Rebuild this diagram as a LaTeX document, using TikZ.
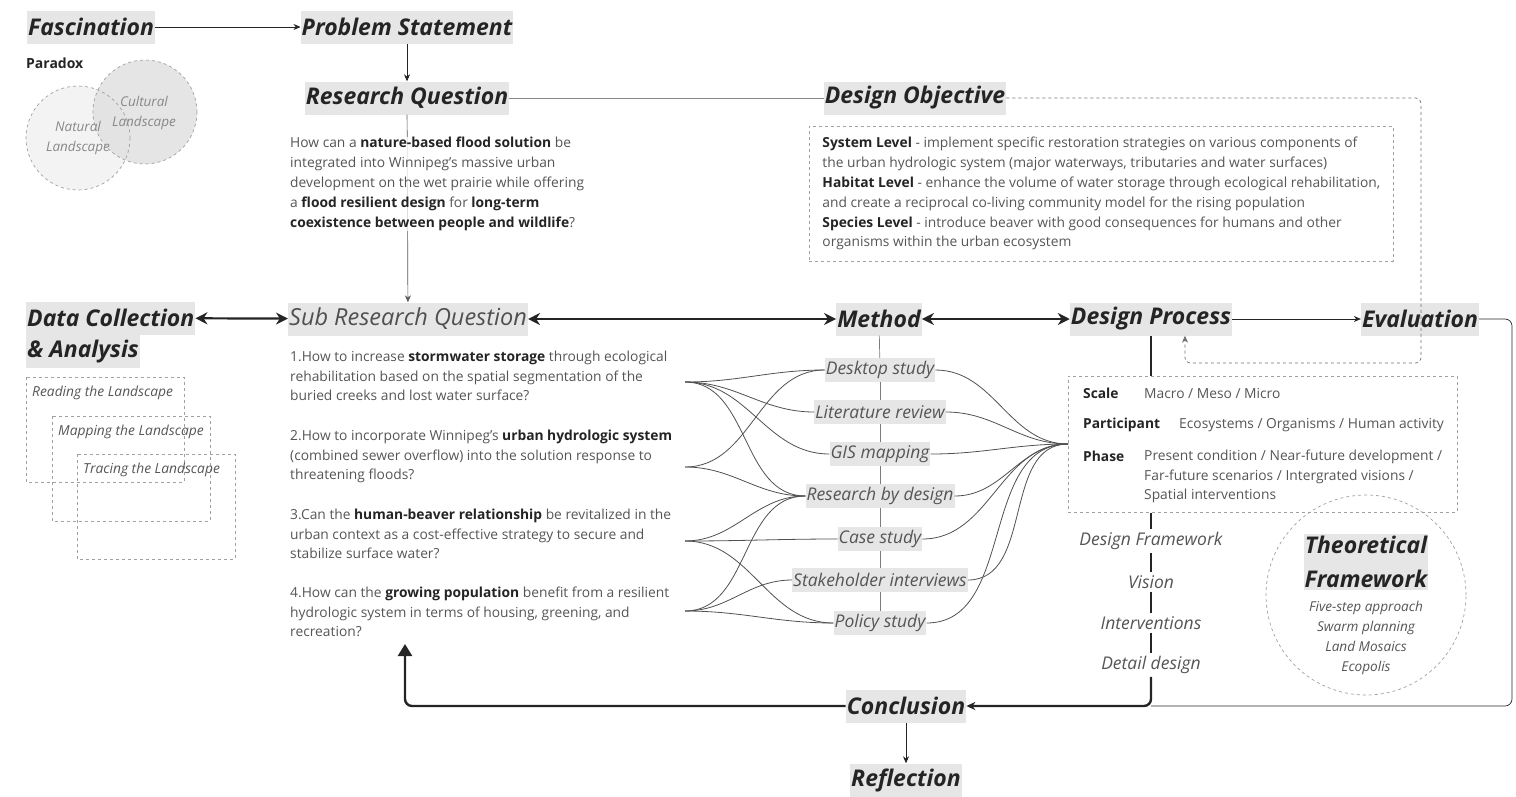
\documentclass[tikz,border=0pt]{standalone}
\usepackage{fontspec}
\setmainfont{Open Sans}
\usetikzlibrary{arrows.meta,positioning}
\definecolor{inkDark}{HTML}{242424}
\definecolor{inkMid}{HTML}{555555}
\definecolor{inkSoft}{HTML}{888888}
\definecolor{boxGrey}{HTML}{E6E6E6}
\definecolor{dashGrey}{HTML}{A0A0A0}
\definecolor{vennLight}{HTML}{F3F3F3}
\definecolor{vennDark}{HTML}{E2E2E2}
\newcommand{\kw}[1]{\textbf{\textcolor{inkDark}{#1}}}

\begin{document}
\begin{tikzpicture}[x=1pt,y=-1pt,
    every node/.style={font=\fontsize{13.8}{20}\selectfont,text=inkMid},
    head/.style={fill=boxGrey,text=inkDark,font=\fontsize{23}{34}\selectfont\bfseries\itshape,inner xsep=1pt,inner ysep=0pt,minimum height=33pt},
    subhead/.style={head,font=\fontsize{23.5}{26}\selectfont\itshape,text=inkDark!80},
    meth/.style={fill=boxGrey,font=\fontsize{17.5}{19}\selectfont\itshape,inner xsep=1pt,inner ysep=0pt,minimum height=24pt},
    stage/.style={fill=white,font=\fontsize{17.5}{19}\selectfont\itshape,inner xsep=2pt,inner ysep=3pt},
    txt/.style={anchor=north west,align=left,inner sep=0pt},
    dpkey/.style={anchor=west,inner sep=0pt,font=\fontsize{13.8}{20}\selectfont\bfseries,text=inkDark},
    landlbl/.style={anchor=west,inner sep=0pt,font=\fontsize{13.8}{15}\selectfont\itshape,text=inkMid},
    dashbox/.style={draw=dashGrey,dashed,line width=0.7pt},
    link/.style={draw=inkDark,line width=0.7pt},
    thin/.style={-{Stealth[length=7pt,width=6pt]},inkDark,line width=0.7pt},
    duo/.style={{Stealth[length=12pt,width=12pt]}-{Stealth[length=12pt,width=12pt]},inkDark,line width=2.2pt},
    col/.style={inkDark,line width=2.4pt},
    fan/.style={inkDark!80,line width=0.8pt}]
  \useasboundingbox (0,0) rectangle (1516,796);

  % paradox venn
  \fill[vennLight] (78,138) circle[radius=52];
  \fill[vennDark,fill opacity=0.9] (145,112) circle[radius=52];
  \draw[dashbox] (78,138) circle[radius=52];
  \draw[dashbox] (145,112) circle[radius=52];
  \node[anchor=west,inner sep=0pt,font=\fontsize{14}{16}\selectfont\bfseries,text=inkDark] (parad) at (26,63) {Paradox};
  \node[align=center,font=\fontsize{13.5}{19.5}\selectfont\itshape,text=inkSoft] (natl) at (78,138) {Natural\\Landscape};
  \node[align=center,font=\fontsize{13.5}{19.5}\selectfont\itshape,text=inkSoft] (cult) at (144,113) {Cultural\\Landscape};

  % headings
  \node[head] (fasc) at (91,27) {Fascination};
  \node[head] (prob) at (407,27) {Problem Statement};
  \node[head] (rq) at (407,98) {Research Question};
  \node[head] (dobj) at (915,98) {Design Objective};
  \node[head,anchor=west] (dc) at (26,318) {Data Collection};
  \node[head,anchor=north west] (dc2) at (dc.south west) {\& Analysis};
  \node[subhead] (srq) at (408,319) {Sub Research Question};
  \node[head] (meth) at (879,319) {Method};
  \node[head] (dproc) at (1151,319) {Design Process};
  \node[head] (eval) at (1420,319) {Evaluation};
  \node[head] (concl) at (906,706) {Conclusion};
  \node[head] (refl) at (906,780) {Reflection};

  \draw[thin] (fasc) -- (prob);
  \draw[thin] (prob) -- (rq);
  \draw[link,draw=inkDark!55] (rq) -- (dobj);
  \draw[thin,draw=inkDark!75] (rq) -- (srq);
  \draw[duo] (dc) -- (srq);
  \draw[duo] (srq) -- (meth);
  \draw[duo] (meth) -- (dproc);
  \draw[thin] (dproc) -- (eval);
  \draw[thin] (concl) -- (refl);

  % research question
  \node[txt,fill=white,fill opacity=0.8,text opacity=1] (rqtext) at (290,137) {How can a \kw{nature-based flood solution} be\\
    integrated into Winnipeg's massive urban\\
    development on the wet prairie while offering\\
    a \kw{flood resilient design} for \kw{long-term}\\
    \kw{coexistence between people and wildlife}?};

  % design objective
  \node[dashbox,anchor=north west,align=left,inner xsep=12pt,inner ysep=11pt,minimum width=584pt,font=\fontsize{13.8}{19.8}\selectfont] (dobox) at (809,126) {\kw{System Level} - implement specific restoration strategies on various components of\\
    the urban hydrologic system (major waterways, tributaries and water surfaces)\\
    \kw{Habitat Level} - enhance the volume of water storage through ecological rehabilitation,\\
    and create a reciprocal co-living community model for the rising population\\
    \kw{Species Level} - introduce beaver with good consequences for humans and other\\
    organisms within the urban ecosystem};
  \draw[dashbox,draw=inkDark!65,rounded corners=5pt,-{Stealth[length=7pt,width=6pt]}] (dobj.east) -| (1421,363) -| ([xshift=34pt]dproc.south);

  % data collection
  \foreach \x/\y/\n/\t in {26/377/lread/Reading, 52/416/lmap/Mapping, 77/454/ltrace/Tracing}{%
    \draw[dashbox] (\x,\y) rectangle ++(158,105);
    \node[landlbl] (\n) at (\x+6,\y+16) {\t\ the Landscape};
  }

  % sub research questions
  \begin{scope}[every node/.append style={font=\fontsize{13.8}{19.6}\selectfont}]
  \node[txt] (sq1) at (290,351) {1.How to increase \kw{stormwater storage} through ecological\\
    rehabilitation based on the spatial segmentation of the\\
    buried creeks and lost water surface?};
  \node[txt] (sq2) at (290,430) {2.How to incorporate Winnipeg's \kw{urban hydrologic system}\\
    (combined sewer overflow) into the solution response to\\
    threatening floods?};
  \node[txt] (sq3) at (290,509) {3.Can the \kw{human-beaver relationship} be revitalized in the\\
    urban context as a cost-effective strategy to secure and\\
    stabilize surface water?};
  \node[txt] (sq4) at (290,587) {4.How can the \kw{growing population} benefit from a resilient\\
    hydrologic system in terms of housing, greening, and\\
    recreation?};
  \end{scope}
  \coordinate (h1) at (685,382);
  \coordinate (h2) at (685,467);
  \coordinate (h3) at (685,541);
  \coordinate (h4) at (685,611);

  % methods
  \foreach \n/\y/\t in {m1/370/Desktop study, m2/412/Literature review, m3/454/GIS mapping,
      m4/496/Research by design, m5/539/Case study, m6/580/Stakeholder interviews, m7/623/Policy study}
    \node[meth] (\n) at (880,\y) {\t};
  \foreach \a/\b in {meth/m1,m1/m2,m2/m3,m3/m4,m4/m5,m5/m6,m6/m7}
    \draw[link,draw=inkDark!60] (\a) -- (\b);

  % design process
  \node[dashbox,anchor=north west,minimum width=389pt,minimum height=136pt,inner sep=0pt] (dpbox) at (1068,376) {};
  \coordinate (rhub) at (dpbox.west |- 0,444);
  \foreach \h/\m in {h1/m1,h1/m2,h1/m3,h1/m4,h2/m1,h2/m4,h3/m4,h3/m5,h3/m7,h4/m4,h4/m6,h4/m7}
    \draw[fan] (\h) to[out=0,in=180] (\m.west);
  \foreach \m in {m1,m2,m3,m4,m5,m6,m7}
    \draw[fan] (\m.east) to[out=0,in=180] (rhub);

  \node[dpkey] (kscale) at (1083,393) {Scale};
  \node[anchor=west,inner sep=0pt] (vscale) at (1144,393) {Macro / Meso / Micro};
  \node[dpkey] (kpart) at (1083,425) {Participant};
  \node[anchor=west,inner sep=0pt] (vpart) at (1179,425) {Ecosystems / Organisms / Human activity};
  \node[dpkey] (kphase) at (1083,456) {Phase};
  \node[txt,font=\fontsize{13.8}{19.5}\selectfont] (vphase) at (1144,450) {Present condition / Near-future development /\\
    Far-future scenarios / Intergrated visions /\\
    Spatial interventions};

  \foreach \n/\y/\t in {st1/541/Design Framework, st2/582/Vision, st3/623/Interventions, st4/665/Detail design}
    \node[stage] (\n) at (1151,\y) {\t};
  \draw[col] (dproc.south) -- (dproc.south |- dpbox.north);
  \draw[col] (dpbox.south -| st1) -- (st1);
  \foreach \a/\b in {st1/st2,st2/st3,st3/st4}
    \draw[col] (\a) -- (\b);
  \draw[col,rounded corners=7pt,-{Stealth[length=9pt,width=8pt]}] (st4.south) |- (concl.east);
  \draw[link,rounded corners=7pt] (eval.east) -| (1512,706) -- (st4.south |- concl.east);
  \draw[col,rounded corners=7pt,-{Triangle[length=12pt,width=14pt]}] (concl.west) -| (405,644);

  % theoretical framework
  \node[dashbox,circle,minimum size=200pt] (tfcirc) at (1366,595) {};
  \node[head,align=center,inner ysep=2pt] (tf) at (1366,562) {Theoretical\\Framework};
  \node[align=center,inner sep=0pt,font=\fontsize{13.6}{20}\selectfont\itshape] (tflist) at (1366,638) {Five-step approach\\Swarm planning\\Land Mosaics\\Ecopolis};
\end{tikzpicture}
\end{document}
